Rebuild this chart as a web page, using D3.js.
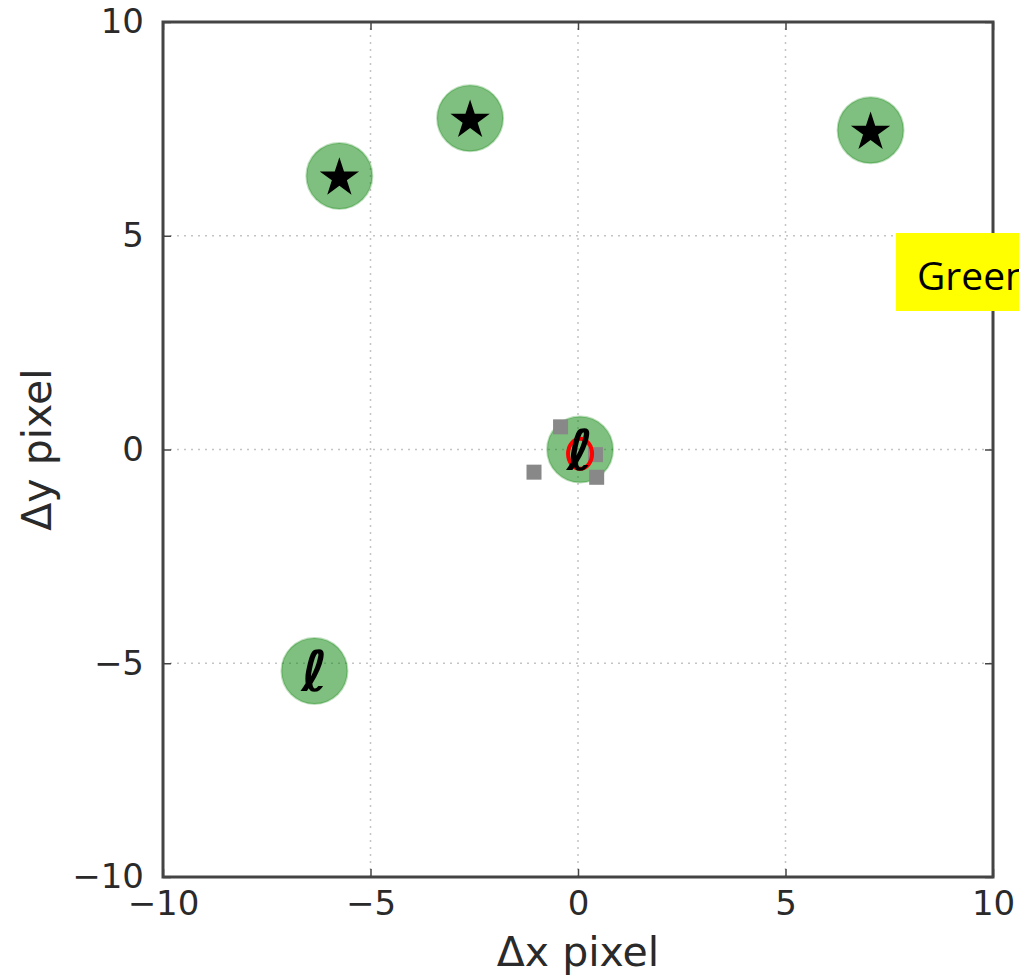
<!DOCTYPE html>
<html>
<head>
<meta charset="utf-8">
<script src="https://cdn.jsdelivr.net/npm/d3@7"></script>
<style>
  body { margin: 0; background: #fff; }
  svg { display: block; }
</style>
</head>
<body>
<div id="vis"></div>
<script>
// sources (green circles) and the marker drawn on each
var srcX = [-5.75, -2.6, 7.05, -6.35, 0.05];
var srcY = [6.4, 7.75, 7.47, -5.18, 0.0];
var srcMark = ['star', 'star', 'star', 'ell', 'ell'];

// grey square detections near the origin
var sqX = [-0.42, -1.06, 0.45, 0.42];
var sqY = [0.53, -0.53, -0.65, -0.12];

// red ring
var ringX = [0.05];
var ringY = [-0.1];

var ticks = [-10, -5, 0, 5, 10];
var xLabel = '\u0394x pixel';
var yLabel = '\u0394y pixel';
var noteText = 'Green';

var width = 1019;
var height = 979;
var margin = { top: 22, left: 163, bottom: 102, right: 26 };

var svg = d3.select('#vis').append('svg')
  .attr('width', width)
  .attr('height', height);

var x = d3.scaleLinear().domain([-10, 10]).range([margin.left, width - margin.right]);
var y = d3.scaleLinear().domain([-10, 10]).range([height - margin.bottom, margin.top]);

var g = svg.append('g');

// grid
g.selectAll('.gx').data(ticks.slice(1, -1)).enter().append('line')
  .attr('x1', function (d) { return x(d); })
  .attr('x2', function (d) { return x(d); })
  .attr('y1', y(-10)).attr('y2', y(10))
  .attr('stroke', '#c4c4c4').attr('stroke-width', 1.5)
  .attr('stroke-dasharray', '2,5');
g.selectAll('.gy').data(ticks.slice(1, -1)).enter().append('line')
  .attr('y1', function (d) { return y(d); })
  .attr('y2', function (d) { return y(d); })
  .attr('x1', x(-10)).attr('x2', x(10))
  .attr('stroke', '#c4c4c4').attr('stroke-width', 1.5)
  .attr('stroke-dasharray', '2,5');

// axes with inward ticks on all sides
function styleAxis(sel) {
  sel.select('.domain').remove();
  sel.selectAll('.tick line').attr('stroke', '#444').attr('stroke-width', 1.5);
  sel.selectAll('text')
    .attr('font-family', 'DejaVu Sans')
    .attr('font-size', 34)
    .attr('fill', '#2a2a2a');
}
var fmt = d3.format('d');
svg.append('g').attr('transform', 'translate(0,' + y(-10) + ')')
  .call(d3.axisBottom(x).tickValues(ticks).tickFormat(fmt).tickSizeInner(-8).tickPadding(14))
  .call(styleAxis);
svg.append('g').attr('transform', 'translate(0,' + y(10) + ')')
  .call(d3.axisTop(x).tickValues(ticks).tickFormat('').tickSizeInner(-8))
  .call(styleAxis);
svg.append('g').attr('transform', 'translate(' + x(-10) + ',0)')
  .call(d3.axisLeft(y).tickValues(ticks).tickFormat(fmt).tickSizeInner(-8).tickPadding(19))
  .call(styleAxis);
svg.append('g').attr('transform', 'translate(' + x(10) + ',0)')
  .call(d3.axisRight(y).tickValues(ticks).tickFormat('').tickSizeInner(-8))
  .call(styleAxis);

// frame
svg.append('rect')
  .attr('x', x(-10)).attr('y', y(10))
  .attr('width', x(10) - x(-10)).attr('height', y(-10) - y(10))
  .attr('fill', 'none').attr('stroke', '#444').attr('stroke-width', 3);

// green circles
var idx = d3.range(srcX.length);
g.selectAll('.src').data(idx).enter().append('circle')
  .attr('cx', function (i) { return x(srcX[i]); })
  .attr('cy', function (i) { return y(srcY[i]); })
  .attr('r', 33)
  .attr('fill', 'green').attr('fill-opacity', 0.5)
  .attr('stroke', 'green').attr('stroke-opacity', 0.25).attr('stroke-width', 2);

// grey squares
var sq = 15;
g.selectAll('.sq').data(d3.range(sqX.length)).enter().append('rect')
  .attr('x', function (i) { return x(sqX[i]) - sq / 2; })
  .attr('y', function (i) { return y(sqY[i]) - sq / 2; })
  .attr('width', sq).attr('height', sq)
  .attr('fill', '#888');

// red ring
g.selectAll('.ring').data(d3.range(ringX.length)).enter().append('ellipse')
  .attr('cx', function (i) { return x(ringX[i]); })
  .attr('cy', function (i) { return y(ringY[i]); })
  .attr('rx', 12).attr('ry', 15)
  .attr('fill', 'none').attr('stroke', 'red').attr('stroke-width', 4);

// star markers
var star = d3.symbol().type(d3.symbolStar).size(480);
g.selectAll('.star').data(idx.filter(function (i) { return srcMark[i] === 'star'; }))
  .enter().append('path')
  .attr('d', star)
  .attr('transform', function (i) { return 'translate(' + x(srcX[i]) + ',' + (y(srcY[i]) + 2) + ')'; })
  .attr('fill', '#000');

// script l markers
g.selectAll('.ell').data(idx.filter(function (i) { return srcMark[i] === 'ell'; }))
  .enter().append('text')
  .attr('x', function (i) { return x(srcX[i]); })
  .attr('y', function (i) { return y(srcY[i]) + 20; })
  .attr('text-anchor', 'middle')
  .attr('font-family', 'DejaVu Sans')
  .attr('font-style', 'oblique')
  .attr('font-weight', 'bold')
  .attr('font-size', 56)
  .attr('fill', '#000')
  .text('\u2113');

// axis labels
svg.append('text')
  .attr('x', (x(-10) + x(10)) / 2).attr('y', 966)
  .attr('text-anchor', 'middle')
  .attr('font-family', 'DejaVu Sans').attr('font-size', 41).attr('fill', '#2a2a2a')
  .text(xLabel);
svg.append('text')
  .attr('transform', 'translate(51,' + y(0) + ') rotate(-90)')
  .attr('text-anchor', 'middle')
  .attr('font-family', 'DejaVu Sans').attr('font-size', 41).attr('fill', '#2a2a2a')
  .text(yLabel);

// yellow note box (runs off the right edge, as in the source)
svg.append('rect')
  .attr('x', 896).attr('y', 233)
  .attr('width', 200).attr('height', 78)
  .attr('fill', '#ffff00');
svg.append('text')
  .attr('x', 917).attr('y', 290)
  .attr('font-family', 'Open Sans').attr('font-size', 39).attr('fill', '#000')
  .text(noteText);
</script>
</body>
</html>
